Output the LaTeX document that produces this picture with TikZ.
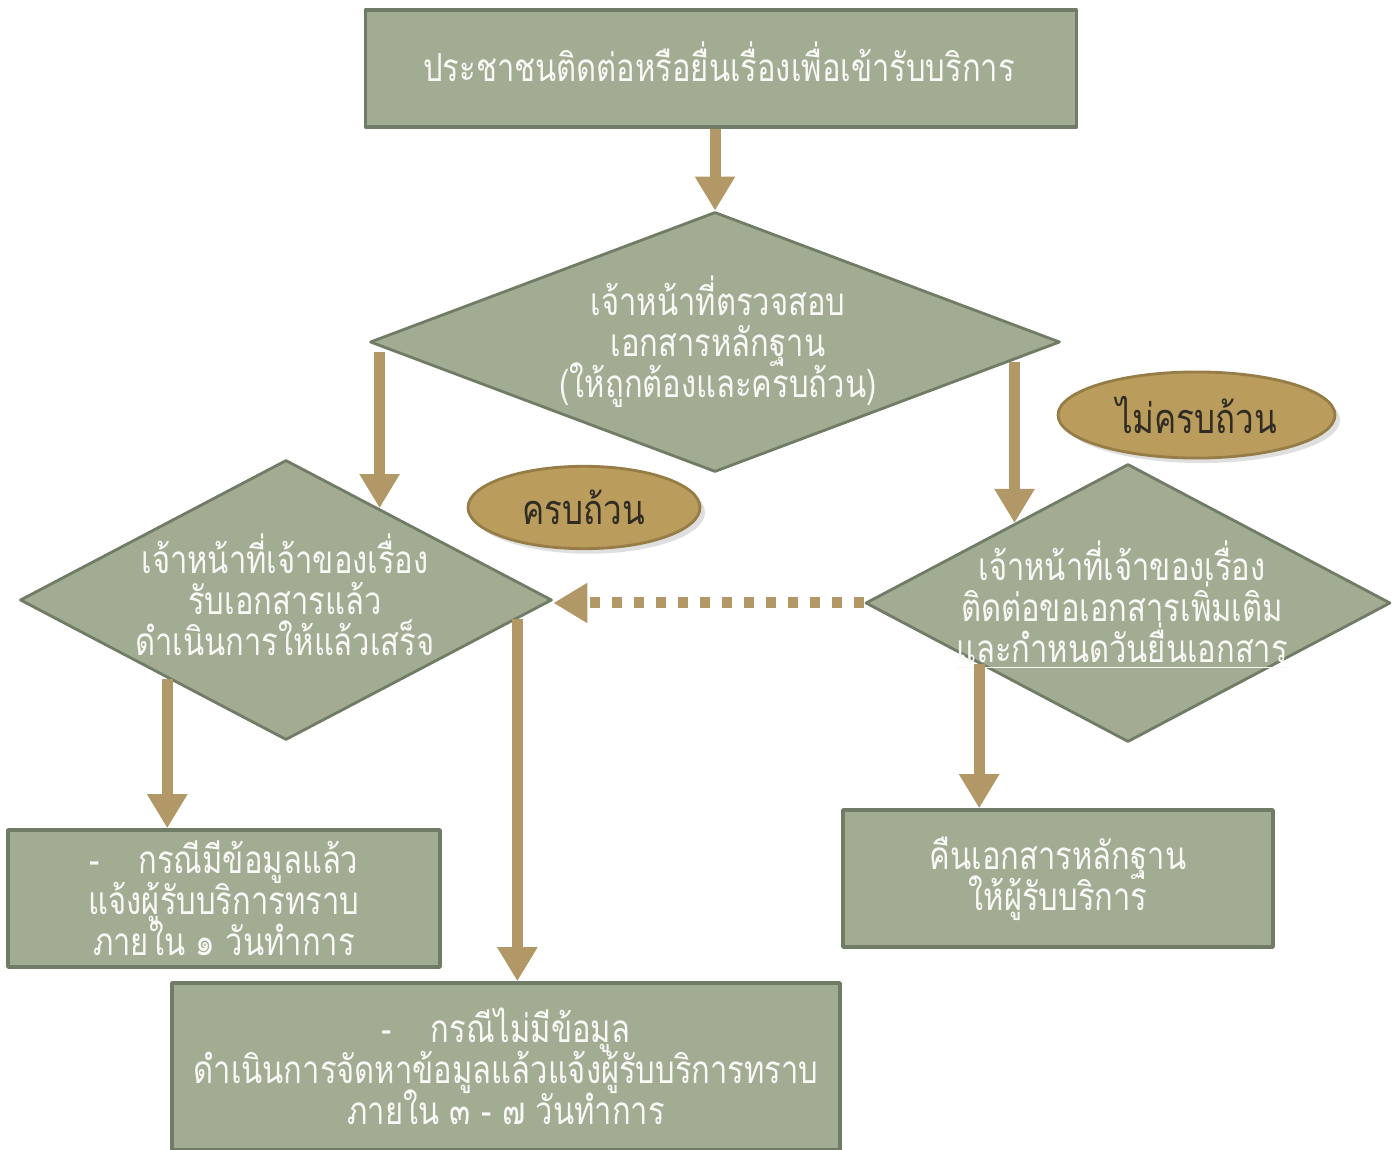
\documentclass[tikz,border=0pt]{standalone}
\usepackage{fontspec}
\newfontfamily\thaifont[Script=Thai,FakeStretch=0.8]{Loma}
\newcommand\thaitext{\thaifont\fontsize{11}{11.7}\selectfont\lineskiplimit-50pt\relax}
\usetikzlibrary{shapes.geometric,arrows.meta,calc,shadows}
\definecolor{sage}{RGB}{162,172,146}
\definecolor{sageline}{RGB}{112,124,102}
\definecolor{tan}{RGB}{178,152,102}
\definecolor{gold}{RGB}{186,157,92}
\definecolor{goldline}{RGB}{150,124,70}
\definecolor{ink}{RGB}{48,44,36}
\begin{document}
\begin{tikzpicture}[line join=round,
	box/.style={rectangle,draw=sageline,line width=1pt,fill=sage,inner sep=0pt,
		text=white!92!sage,align=center,font=\thaitext},
	dia/.style={diamond,draw=sageline,line width=.8pt,fill=sage,inner sep=0pt},
	txt/.style={text=white!92!sage,align=center,font=\thaitext},
	tag/.style={ellipse,draw=goldline,line width=.8pt,fill=gold,text=ink,
		font=\thaifont\fontsize{11.8}{14}\selectfont,
		drop shadow={opacity=.25,shadow xshift=.05cm,shadow yshift=-.05cm}},
	flow/.style={draw=tan,line width=.11cm,-{Triangle[width=.38cm,length=.34cm]}},
	dotflow/.style={flow,dash pattern=on .1cm off .12cm}]
	\useasboundingbox (0,0) rectangle (13.95,-11.5);
	% boxes and diamonds
	\node[box,minimum width=7.11cm,minimum height=1.17cm] (top) at (7.21,-.685) {};
	\node[txt] (toptxt) at (7.19,-.62) {ประชาชนติดต่อหรือยื่นเรื่องเพื่อเข้ารับบริการ};
	\node[dia,minimum width=6.9cm,minimum height=2.6cm] (chk) at (7.15,-3.42) {};
	\node[dia,minimum width=5.32cm,minimum height=2.8cm] (accept) at (2.86,-6.0) {};
	\node[dia,minimum width=5.25cm,minimum height=2.78cm] (more) at (11.28,-6.03) {};
	\node[box,minimum width=4.32cm,minimum height=1.37cm] (found) at (2.24,-8.985)
		{-\quad กรณีมีข้อมูลแล้ว\\แจ้งผู้รับบริการทราบ\\ภายใน ๑ วันทำการ};
	\node[box,minimum width=6.68cm,minimum height=1.67cm] (search) at (5.06,-10.665)
		{-\quad กรณีไม่มีข้อมูล\\ดำเนินการจัดหาข้อมูลแล้วแจ้งผู้รับบริการทราบ\\ภายใน ๓ - ๗ วันทำการ};
	\node[box,minimum width=4.30cm,minimum height=1.37cm] (ret) at (10.58,-8.785)
		{คืนเอกสารหลักฐาน\\ให้ผู้รับบริการ};
	\node[txt] (chktxt) at (7.18,-3.42) {เจ้าหน้าที่ตรวจสอบ\\เอกสารหลักฐาน\\(ให้ถูกต้องและครบถ้วน)};
	\node[txt] (accepttxt) at (2.85,-5.95) {เจ้าหน้าที่เจ้าของเรื่อง\\รับเอกสารแล้ว\\ดำเนินการให้แล้วเสร็จ};
	\node[txt] (moretxt) at (11.22,-6.05) {เจ้าหน้าที่เจ้าของเรื่อง\\ติดต่อขอเอกสารเพิ่มเติม\\\underline{และกำหนดวันยื่นเอกสาร}};
	% connectors
	\coordinate (a1) at ($(accept.north)!.35!(accept.east)$);
	\coordinate (a2) at ($(accept.west)!.556!(accept.south)$);
	\coordinate (a3) at ($(accept.east)!.135!(accept.south)$);
	\coordinate (m1) at ($(more.north)!.43!(more.west)$);
	\coordinate (m2) at ($(more.west)!.436!(more.south)$);
	\draw[flow] (top.south -| chk.north) -- (chk.north);
	\draw[flow] (a1 |- chk.west) ++(0,-.1) -- (a1);
	\draw[flow] (m1 |- chk.east) ++(0,-.2) -- (m1);
	\draw[dotflow] (more.west) -- (more.west -| accept.east);
	\draw[flow] (m2) -- (m2 |- ret.north);
	\draw[flow] (a2) -- (a2 |- found.north);
	\draw[flow] (a3) -- (a3 |- search.north);
	% answers
	\node[tag,minimum width=2.32cm,minimum height=.66cm] (ok) at (5.84,-5.075) {ครบถ้วน};
	\node[tag,minimum width=2.77cm,minimum height=.74cm] (notok) at (11.965,-4.15) {ไม่ครบถ้วน};
\end{tikzpicture}
\end{document}
